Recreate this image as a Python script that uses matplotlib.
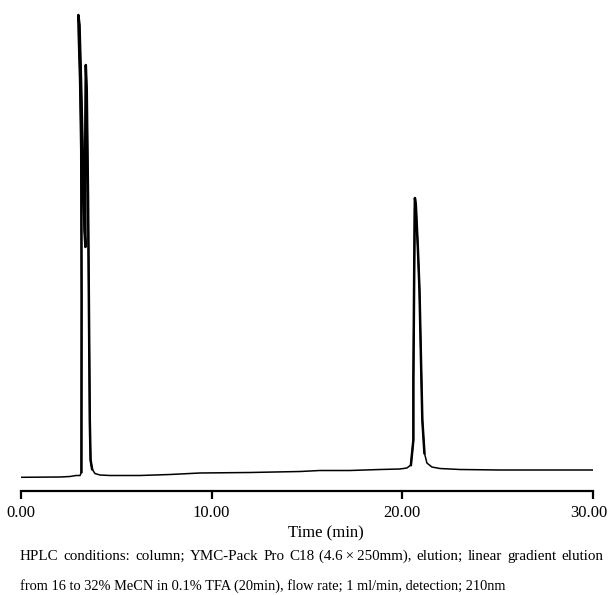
import matplotlib
matplotlib.use("Agg")
import matplotlib.pyplot as plt
from matplotlib.transforms import ScaledTranslation

plt.rcParams['font.family'] = ['Liberation Serif', 'DejaVu Serif']

# chromatogram trace (time in min, signal in arbitrary units)
time_min = [0.00, 2.05, 2.57, 2.89, 3.10, 3.17, 3.18, 3.16, 3.10, 3.03, 3.01,
            3.07, 3.15, 3.25, 3.33, 3.38, 3.37, 3.40, 3.45, 3.52, 3.57, 3.61,
            3.65, 3.73, 3.88, 4.14, 4.67, 6.24, 7.82, 9.39, 12.01, 14.64,
            15.69, 17.26, 18.84, 19.88, 20.25, 20.46, 20.59, 20.59, 20.63,
            20.66, 20.67, 20.72, 20.83, 20.91, 20.99, 21.06, 21.17, 21.30,
            21.56, 21.98, 23.03, 25.13, 27.75, 30.00]
signal = [0.7, 1.0, 1.5, 2.5, 2.5, 6, 178, 328, 398, 443, 463,
          453, 398, 318, 248, 231, 328, 413, 388, 278, 158, 58,
          18, 9, 4.5, 3, 2.5, 2.5, 3.5, 5, 5.5, 6.5,
          7.5, 7.5, 8.5, 9, 10, 13, 38, 98, 198,
          268, 280, 273, 228, 188, 118, 58, 25, 15,
          11, 9.5, 8.5, 8, 8, 8]

tick_values = [0, 10, 20, 30]
tick_labels = ['0.00', '10.00', '20.00', '30.00']

caption1 = ('HPLC conditions: column; YMC-Pack Pro C18 (4.6\u2009\u00d7\u2009250mm), '
            'elution; linear gradient elution')
caption2 = ('from 16 to 32% MeCN in 0.1% TFA (20min), flow rate; 1 ml/min, '
            'detection; 210nm')

W, H = 609, 595
fig = plt.figure(figsize=(W / 100, H / 100), dpi=100)
ax = fig.add_axes([21 / W, 1 - 491 / H, 571.7 / W, 481 / H])

ax.plot(time_min, signal, color='black', linewidth=1.1)
# the recorder strokes are heavier on the peaks
ax.plot(time_min[5:24], signal[5:24], color='black', linewidth=1.8)
ax.plot(time_min[37:49], signal[37:49], color='black', linewidth=1.8)

ax.set_xlim(0, 30)
ax.set_ylim(-13, 468)
ax.set_xticks(tick_values)
ax.set_xticklabels(tick_labels, fontsize=12)
ax.set_yticks([])
for side in ['top', 'right', 'left']:
    ax.spines[side].set_visible(False)
ax.spines['bottom'].set_linewidth(1.6)
ax.tick_params(axis='x', direction='out', length=6, width=1.6, pad=4)

# keep the last label inside the figure, as in the original
last = ax.get_xticklabels()[-1]
last.set_transform(last.get_transform() + ScaledTranslation(-4 / 100, 0, fig.dpi_scale_trans))

fig.text(326 / W, 1 - 537 / H, 'Time (min)', ha='center', va='baseline', fontsize=12)


def justified_line(text, x0, x1, y, size):
    # spread the words so the line runs from x0 to x1 (pixels)
    words = text.split(' ')
    items = [fig.text(0, 1 - y / H, w, ha='left', va='baseline', fontsize=size)
             for w in words]
    renderer = fig.canvas.get_renderer()
    widths = [t.get_window_extent(renderer).width for t in items]
    gap = (x1 - x0 - sum(widths)) / (len(words) - 1)
    x = x0
    for t, w in zip(items, widths):
        t.set_x(x / W)
        x += w + gap


justified_line(caption1, 20, 603, 560, 10.8)
fig.text(20 / W, 1 - 590 / H, caption2, ha='left', va='baseline', fontsize=10.4)

fig.savefig('out.png', dpi=100)
